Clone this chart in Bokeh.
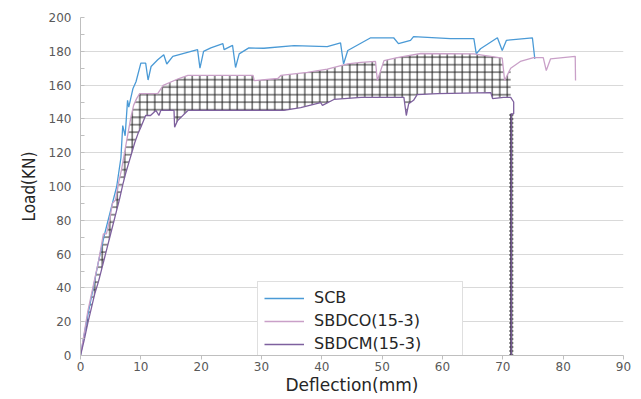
import numpy as np
from bokeh.plotting import figure
from bokeh.models import (SingleIntervalTicker, Legend, LegendItem, Range1d)
from bokeh.embed import file_html
from bokeh.resources import INLINE

# ---------------- data ----------------
scb_x = [0, 1, 2, 3, 4, 5, 6, 6.7, 7.0, 7.4, 7.8, 8.0, 8.7, 9.2, 10.0, 10.8, 11.2, 11.7,
         12.8, 13.8, 14.3, 15.3, 19.4, 19.8, 20.4, 21.6, 23.6, 23.8, 25.2, 25.7, 26.3,
         27.9, 30.4, 35.4, 40.9, 43.1, 43.6, 44.3, 48.1, 51.9, 52.7, 54.7, 55.2, 61.3,
         65.2, 65.6, 66.3, 69.1, 69.9, 70.6, 74.9, 75.3]
scb_y = [0, 20, 38, 56, 72, 86, 100, 117, 136, 130, 151, 147, 158, 162, 173, 173, 163, 171,
         175, 178, 172.5, 177, 181, 170, 180, 182, 184.5, 181, 183.5, 170.4, 178.5,
         182, 181.8, 183.4, 182.8, 185, 172.5, 180.5, 188, 188, 184.5, 186.5, 188.7, 187.5,
         187.5, 178.5, 181.5, 188, 180.5, 186.5, 188, 175.5]

sbdco_x = [0, 0.6, 1.2, 1.8, 2.4, 3.0, 3.4, 3.8, 4.3, 4.8, 5.3, 5.8, 6.3, 6.8, 7.3, 7.8,
           8.3, 8.8, 9.3, 9.8, 12.8, 13.7, 16.3, 17.8, 28.6, 28.8, 32.7, 33.2, 37.6, 40.9,
           44.3, 46.5, 48.9, 49.2, 50.3, 52.5, 56.4, 65.2, 69.9, 70.3, 71.3, 72.9, 75.1,
           76.7, 77.2, 77.9, 82.0, 82.05]
sbdco_y = [0, 13, 26, 36, 46, 56, 64, 72, 72, 80, 90, 92, 102, 110, 120, 130,
           140, 148, 152, 155, 155, 159.8, 163.9, 165.7, 165.7, 162.7, 163.9, 165.7, 167.5, 169.4,
           172.5, 173.4, 174, 162.7, 174.5, 176.3, 178.7, 178.5, 176, 162.7, 170, 174, 176.3,
           176.3, 168.6, 175.5, 177, 162.7]

sbdcm_x = [0, 0.6, 1.2, 1.8, 2.4, 3.0, 3.5, 4.0, 4.5, 5.0, 5.5, 6.0, 6.5, 7.0, 7.5, 8.0,
           8.5, 9.0, 9.5, 10.0, 10.8, 11.6, 12.5, 13.0, 13.3, 15.5, 15.6, 16.1, 17.8, 33.7,
           36.5, 39.8, 40.1, 42.0, 46.5, 49.8, 53.6, 54.0, 54.4, 55.2, 55.8, 59.2, 68.0,
           68.3, 70.1, 71.3, 71.8, 71.8, 71.4, 71.4]
sbdcm_y = [0, 9, 19, 28, 37, 44, 51, 58, 65, 72, 79, 86, 93, 101, 108, 114,
           120, 126, 131, 135, 142, 142, 145, 142, 145, 145, 135, 139, 145, 145,
           146.7, 149.7, 148, 151.5, 152.7, 152.7, 152.7, 142, 149, 151, 154.4, 155, 155.6,
           152, 152.7, 152.7, 150, 143, 143, 0]

x_ticks_interval = 10
y_ticks_interval = 20
x_title = "Deflection(mm)"
y_title = "Load(KN)"

# ---------------- figure ----------------
p = figure(width=633, height=397, output_backend="svg", toolbar_location=None,
           x_range=Range1d(0, 90), y_range=Range1d(0, 200),
           min_border_left=80, min_border_right=10, min_border_top=17, min_border_bottom=42)
p.outline_line_color = None
p.background_fill_color = "white"
p.border_fill_color = "white"

p.xgrid.grid_line_color = None
p.ygrid.grid_line_color = "#D9D9D9"
p.ygrid.grid_line_width = 1

p.xaxis.ticker = SingleIntervalTicker(interval=x_ticks_interval, num_minor_ticks=0)
p.yaxis.ticker = SingleIntervalTicker(interval=y_ticks_interval, num_minor_ticks=2)

for ax in (p.xaxis[0], p.yaxis[0]):
    ax.axis_line_color = "#BFBFBF"
    ax.major_tick_line_color = "#BFBFBF"
    ax.minor_tick_line_color = "#BFBFBF"
    ax.major_label_text_font = "DejaVu Sans"
    ax.major_label_text_font_size = "12px"
    ax.major_label_text_color = "#595959"
    ax.axis_label_text_font_style = "normal"
    ax.axis_label_text_color = "#262626"

p.xaxis.major_tick_in = 0
p.xaxis.major_tick_out = 4
p.xaxis.major_label_standoff = 2
p.xaxis.axis_label = x_title
p.xaxis.axis_label_text_font = "DejaVu Sans"
p.xaxis.axis_label_text_font_size = "17px"
p.xaxis.axis_label_standoff = 1

p.yaxis.major_tick_in = 0
p.yaxis.major_tick_out = 0
p.yaxis.minor_tick_in = 4
p.yaxis.minor_tick_out = 0
p.yaxis.major_label_standoff = 9
p.yaxis.axis_label = y_title
p.yaxis.axis_label_text_font = "DejaVu Sans Condensed"
p.yaxis.axis_label_text_font_size = "17px"
p.yaxis.axis_label_standoff = 7

# ---------------- hatched band between SBDCO and SBDCM ----------------
mx = np.array(sbdcm_x)
my = np.array(sbdcm_y)
ox = np.array(sbdco_x)
oy = np.array(sbdco_y)
band_end = 46  # SBDCM point where the band stops (x = 71.8)
band_x = np.unique(np.concatenate([mx[:band_end], ox[ox <= mx[band_end - 1]]]))
band_lo = np.interp(band_x, mx[:band_end], my[:band_end])
band_hi = np.maximum(np.interp(band_x, ox, oy), band_lo)
p.varea(x=band_x, y1=band_lo, y2=band_hi, fill_alpha=0,
        hatch_pattern="+", hatch_color="#1a1a1a", hatch_scale=7.5, hatch_weight=1)

# vertical drop of SBDCM to zero, drawn as a hatched strip
drop_x = mx[-1]
drop_top = my[-2]
p.varea(x=[drop_x - 0.35, drop_x + 0.35], y1=[0, 0], y2=[drop_top, drop_top], fill_alpha=0,
        hatch_pattern="-", hatch_color="#1a1a1a", hatch_scale=4, hatch_weight=1)
p.segment(x0=[drop_x], y0=[0], x1=[drop_x], y1=[drop_top], line_color="#1a1a1a", line_width=2)

# ---------------- lines ----------------
r_scb = p.line(scb_x, scb_y, line_color="#4A9AD6", line_width=1.3)
r_co = p.line(sbdco_x, sbdco_y, line_color="#C9A0C8", line_width=1.3)
r_cm = p.line(sbdcm_x, sbdcm_y, line_color="#7E609E", line_width=1.3)

legend = Legend(items=[LegendItem(label="SCB", renderers=[r_scb]),
                       LegendItem(label="SBDCO(15-3)", renderers=[r_co]),
                       LegendItem(label="SBDCM(15-3)", renderers=[r_cm])],
                location=(177, -5))
legend.label_text_font = "DejaVu Sans"
legend.label_text_font_size = "16px"
legend.label_text_color = "#262626"
legend.glyph_width = 40
legend.glyph_height = 18
legend.label_height = 18
legend.label_width = 142
legend.label_standoff = 10
legend.spacing = 4
legend.padding = 6
legend.margin = 0
legend.border_line_color = "#BFBFBF"
legend.border_line_width = 1
legend.background_fill_color = "white"
legend.background_fill_alpha = 1
p.add_layout(legend, "center")

open("out.html", "w").write(file_html(p, INLINE))
